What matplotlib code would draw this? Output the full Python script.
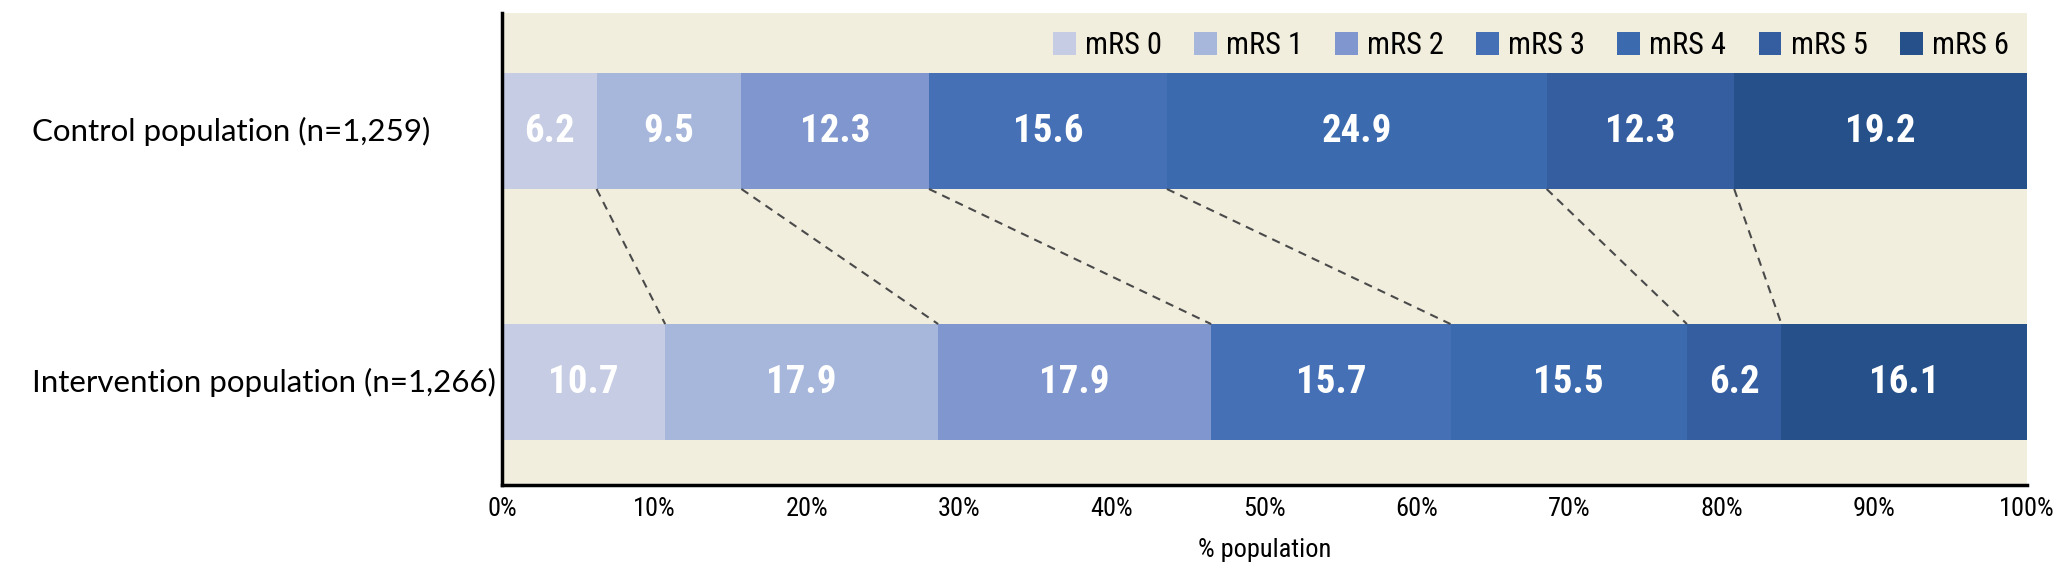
import matplotlib
matplotlib.use("Agg")
import matplotlib.pyplot as plt
import numpy as np

# Data
groups = ["Intervention population (n=1,266)", "Control population (n=1,259)"]
categories = ["mRS 0", "mRS 1", "mRS 2", "mRS 3", "mRS 4", "mRS 5", "mRS 6"]
control = [6.2, 9.5, 12.3, 15.6, 24.9, 12.3, 19.2]
intervention = [10.7, 17.9, 17.9, 15.7, 15.5, 6.2, 16.1]
colors = ["#C5CCE3", "#A7B6DB", "#7F97CE", "#4570B6", "#3B6AAF", "#355EA1", "#25508A"]
xticks = [0, 10, 20, 30, 40, 50, 60, 70, 80, 90, 100]

narrow = ["Roboto Condensed", "Archivo Narrow", "Asap Condensed",
          "Liberation Sans Narrow", "DejaVu Sans"]
bg = "#F1EEDE"
bar_h = 0.462

fig = plt.figure(figsize=(20.68, 5.73), dpi=100)
ax = fig.add_axes([502 / 2068, 88 / 573, 1525 / 2068, 472 / 573])
ax.set_facecolor(bg)

rows = [intervention, control]
for yi, vals in enumerate(rows):
    left = 0
    for k, v in enumerate(vals):
        ax.barh(yi, v, left=left, height=bar_h, color=colors[k],
                label=categories[k] if yi == 0 else None, linewidth=0)
        ax.text(left + v / 2, yi, f"{v:.1f}", ha="center", va="center",
                color="white", fontsize=28, fontweight="bold", family=narrow)
        left += v

# dashed connectors between segment boundaries
c_cum = np.cumsum(control)[:-1]
i_cum = np.cumsum(intervention)[:-1]
for xc, xi in zip(c_cum, i_cum):
    ax.plot([xc, xi], [1 - bar_h / 2, bar_h / 2], ls=(0, (4, 3)),
            color="#4a4a4a", lw=1.5)

ax.set_xlim(0, 100)
ax.set_ylim(-0.41, 1.47)
ax.set_xticks(xticks)
ax.set_xticklabels([f"{t}%" for t in xticks], family=narrow, fontsize=19)
ax.set_yticks([0, 1])
ax.set_yticklabels([])
# category labels, left aligned like the original
for yi, g in enumerate(groups):
    ax.text(-0.3085, yi, g, transform=ax.get_yaxis_transform(), ha="left",
            va="center", fontsize=22.5, family=["Lato", "DejaVu Sans"])
ax.tick_params(length=0)
ax.tick_params(axis="x", pad=9)
ax.set_xlabel("% population", family=narrow, fontsize=19, labelpad=12)

for s in ["top", "right"]:
    ax.spines[s].set_visible(False)
for s in ["left", "bottom"]:
    ax.spines[s].set_linewidth(2.5)
    ax.spines[s].set_color("black")

leg = ax.legend(ncol=7, loc="upper right", bbox_to_anchor=(1.0, 1.0), frameon=False,
                prop={"family": narrow, "size": 22}, handlelength=0.75, handleheight=0.75,
                handletextpad=0.3, columnspacing=1.05, borderaxespad=0.2)

fig.savefig("out.png", dpi=100, facecolor="white")
